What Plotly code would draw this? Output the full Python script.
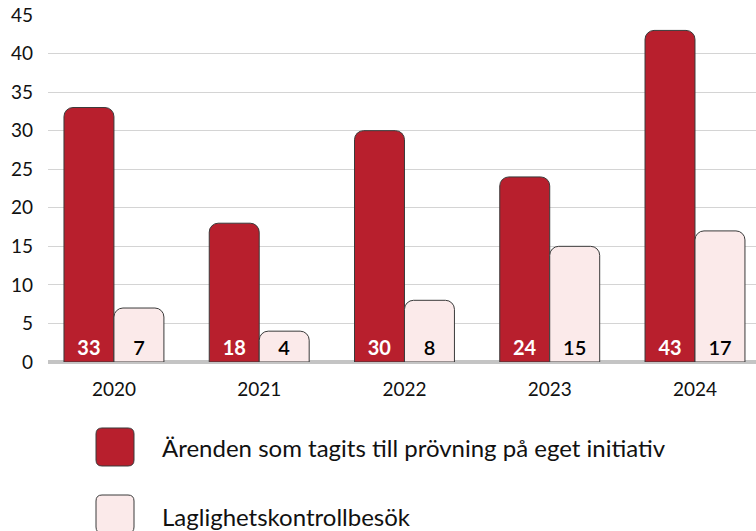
import plotly.graph_objects as go

years = ["2020", "2021", "2022", "2023", "2024"]
arenden = [33, 18, 30, 24, 43]
laglighet = [7, 4, 8, 15, 17]
series_names = ["Ärenden som tagits till prövning på eget initiativ", "Laglighetskontrollbesök"]
y_ticks = [0, 5, 10, 15, 20, 25, 30, 35, 40, 45]

RED = "#b81f2d"
PINK = "#fbeaea"
EDGE = "#3a3a3a"
FONT = "Lato"

W, H = 756, 531
L, R, T, B = 48, 0, 15, 169
pw, ph = W - L - R, H - T - B

x = list(range(len(years)))

fig = go.Figure()
fig.add_bar(x=x, y=arenden, name=series_names[0], marker=dict(color=RED, line=dict(color=EDGE, width=1), cornerradius=9),
            text=arenden, textposition="inside", insidetextanchor="start", textangle=0,
            textfont=dict(color="white", size=20, family=FONT, weight="bold"), showlegend=False)
fig.add_bar(x=x, y=laglighet, name=series_names[1], marker=dict(color=PINK, line=dict(color=EDGE, width=1), cornerradius=9),
            text=laglighet, textposition="inside", insidetextanchor="start", textangle=0,
            textfont=dict(color="black", size=20, family=FONT, weight=600), showlegend=False)

def px2paper(px, py):
    return (px - L) / pw, (H - B - py) / ph

def rounded_rect(x0, y0, x1, y1, r):
    def P(a, b):
        u, v = px2paper(a, b)
        return f"{u:.5f},{v:.5f}"
    path = (f"M {P(x0+r, y0)} L {P(x1-r, y0)} Q {P(x1, y0)} {P(x1, y0+r)} "
            f"L {P(x1, y1-r)} Q {P(x1, y1)} {P(x1-r, y1)} "
            f"L {P(x0+r, y1)} Q {P(x0, y1)} {P(x0, y1-r)} "
            f"L {P(x0, y0+r)} Q {P(x0, y0)} {P(x0+r, y0)} Z")
    return path

shapes = [
    dict(type="line", xref="paper", yref="paper", x0=0, x1=1, y0=0, y1=0, line=dict(color="#c4c4c4", width=4), layer="between"),
    dict(type="path", xref="paper", yref="paper", path=rounded_rect(96, 428, 134, 466, 6), fillcolor=RED, line=dict(color=EDGE, width=1)),
    dict(type="path", xref="paper", yref="paper", path=rounded_rect(96, 495, 134, 533, 6), fillcolor=PINK, line=dict(color=EDGE, width=1)),
]
annotations = []
for name, py in zip(series_names, [448, 516]):
    u, v = px2paper(160, py)
    annotations.append(dict(xref="paper", yref="paper", x=u, y=v, xanchor="left", yanchor="middle", text=name,
                            showarrow=False, font=dict(family=FONT, size=24, color="#111")))

fig.update_layout(
    width=W, height=H, margin=dict(l=L, r=R, t=T, b=B),
    plot_bgcolor="white", paper_bgcolor="white",
    barmode="group", bargap=0.312, bargroupgap=0,
    font=dict(family=FONT, size=19, color="#111"),
    shapes=shapes, annotations=annotations, showlegend=False,
)
fig.update_xaxes(range=[-0.454, 4.42], tickmode="array", tickvals=x, ticktext=years, showgrid=False,
                 zeroline=False, showline=False, ticks="", ticklabelstandoff=14, tickfont=dict(size=19))
fig.update_yaxes(range=[0, 45], tickvals=y_ticks, showgrid=True, gridcolor="#d4d4d4", gridwidth=1,
                 zeroline=False, showline=False, ticks="", ticklabelstandoff=14, tickfont=dict(size=19))

fig.write_html("out.html", config={"displayModeBar": False},
               post_script="document.body.style.margin='0';document.body.style.padding='0';")
